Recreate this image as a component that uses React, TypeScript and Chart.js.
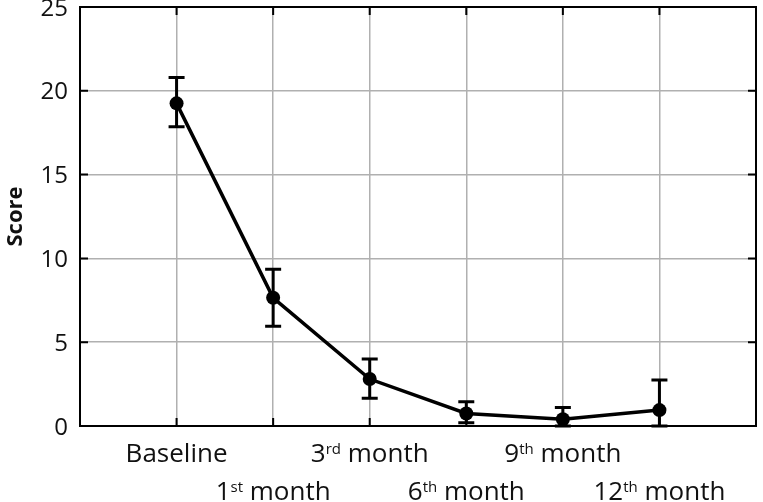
import React, { useEffect, useRef } from "react";
import { Chart, registerables } from "chart.js";

Chart.register(...registerables);

const categories = ["Baseline", "1st month", "3rd month", "6th month", "9th month", "12th month"];
const meanValues = [19.25, 7.65, 2.8, 0.75, 0.4, 0.95];
const errorLow = [17.85, 5.95, 1.65, 0.2, 0.0, 0.0];
const errorHigh = [20.8, 9.35, 4.0, 1.45, 1.1, 2.75];
const yTicks = [0, 5, 10, 15, 20, 25];
const yTitle = "Score";

const FONT = "'Open Sans', 'Noto Sans', sans-serif";

const customPlugin = {
  id: "custom",
  beforeDatasetsDraw(chart: any) {
    const ctx = chart.ctx;
    const xs = chart.scales.x;
    const ys = chart.scales.y;
    ctx.save();
    ctx.strokeStyle = "#000";
    ctx.lineWidth = 3;
    meanValues.forEach((_, i) => {
      const px = xs.getPixelForValue(i + 1);
      const top = ys.getPixelForValue(errorHigh[i]);
      const bot = ys.getPixelForValue(errorLow[i]);
      ctx.beginPath();
      ctx.moveTo(px, top);
      ctx.lineTo(px, bot);
      ctx.moveTo(px - 8, top);
      ctx.lineTo(px + 8, top);
      ctx.moveTo(px - 8, bot);
      ctx.lineTo(px + 8, bot);
      ctx.stroke();
    });
    ctx.restore();
  },
  afterDraw(chart: any) {
    const ctx = chart.ctx;
    const xs = chart.scales.x;
    const ys = chart.scales.y;
    const a = chart.chartArea;
    ctx.save();
    ctx.strokeStyle = "#000";
    ctx.lineWidth = 2;
    ctx.strokeRect(a.left, a.top, a.right - a.left, a.bottom - a.top);
    ctx.beginPath();
    yTicks.forEach((v) => {
      const py = ys.getPixelForValue(v);
      ctx.moveTo(a.left, py);
      ctx.lineTo(a.left + 8, py);
      ctx.moveTo(a.right, py);
      ctx.lineTo(a.right - 8, py);
    });
    categories.forEach((_, i) => {
      const px = xs.getPixelForValue(i + 1);
      ctx.moveTo(px, a.bottom);
      ctx.lineTo(px, a.bottom - 8);
      ctx.moveTo(px, a.top);
      ctx.lineTo(px, a.top + 8);
    });
    ctx.stroke();
    ctx.fillStyle = "#111";
    ctx.font = `24px ${FONT}`;
    ctx.textAlign = "right";
    ctx.textBaseline = "alphabetic";
    yTicks.forEach((v) => {
      const py = ys.getPixelForValue(v);
      ctx.fillText(String(v), a.left - 12, py + 8.5);
    });
    ctx.save();
    ctx.translate(16, (a.top + a.bottom) / 2);
    ctx.rotate(-Math.PI / 2);
    ctx.font = `bold 22px ${FONT}`;
    ctx.textAlign = "center";
    ctx.textBaseline = "middle";
    ctx.fillText(yTitle, 0, 0);
    ctx.restore();
    const mainFont = `26px ${FONT}`;
    const supFont = `15px ${FONT}`;
    categories.forEach((label, i) => {
      const px = xs.getPixelForValue(i + 1);
      const baseY = i % 2 === 0 ? 462 : 500;
      const m = label.match(/^(\d+)(st|nd|rd|th)(.*)$/);
      const parts: { t: string; sup: boolean }[] = m
        ? [
            { t: m[1], sup: false },
            { t: m[2], sup: true },
            { t: m[3], sup: false },
          ]
        : [{ t: label, sup: false }];
      let total = 0;
      const widths = parts.map((p) => {
        ctx.font = p.sup ? supFont : mainFont;
        const w = ctx.measureText(p.t).width;
        total += w;
        return w;
      });
      let cx = px - total / 2;
      ctx.textAlign = "left";
      ctx.textBaseline = "alphabetic";
      parts.forEach((p, k) => {
        ctx.font = p.sup ? supFont : mainFont;
        ctx.fillText(p.t, cx, p.sup ? baseY - 8 : baseY);
        cx += widths[k];
      });
    });
    ctx.restore();
  },
};

export default function App() {
  const ref = useRef<HTMLCanvasElement>(null);
  useEffect(() => {
    document.body.style.margin = "0";
    const points = meanValues.map((v, i) => ({ x: i + 1, y: v }));
    const chart = new Chart(ref.current as HTMLCanvasElement, {
      type: "line",
      data: {
        datasets: [
          {
            data: points,
            borderColor: "#000",
            backgroundColor: "#000",
            borderWidth: 3.5,
            pointRadius: 7,
            pointBackgroundColor: "#000",
            pointBorderWidth: 0,
            tension: 0,
          },
        ],
      },
      options: {
        animation: false,
        responsive: false,
        devicePixelRatio: 1,
        layout: { padding: { top: 7, right: 2, left: 0, bottom: 0 } },
        plugins: { legend: { display: false }, tooltip: { enabled: false } },
        scales: {
          x: {
            type: "linear",
            min: 0,
            max: 7,
            ticks: { stepSize: 1, display: false },
            grid: { color: "#b0b0b0", lineWidth: 1.5, drawTicks: false },
            border: { display: false },
            afterFit: (s: any) => {
              s.height = 76;
            },
          },
          y: {
            min: 0,
            max: 25,
            ticks: { stepSize: 5, display: false },
            grid: { color: "#b0b0b0", lineWidth: 1.5, drawTicks: false },
            border: { display: false },
            afterFit: (s: any) => {
              s.width = 80;
            },
          },
        },
      },
      plugins: [customPlugin],
    });
    return () => chart.destroy();
  }, []);
  return (
    <div style={{ width: 763, height: 502 }}>
      <canvas ref={ref} width={763} height={502} />
    </div>
  );
}
